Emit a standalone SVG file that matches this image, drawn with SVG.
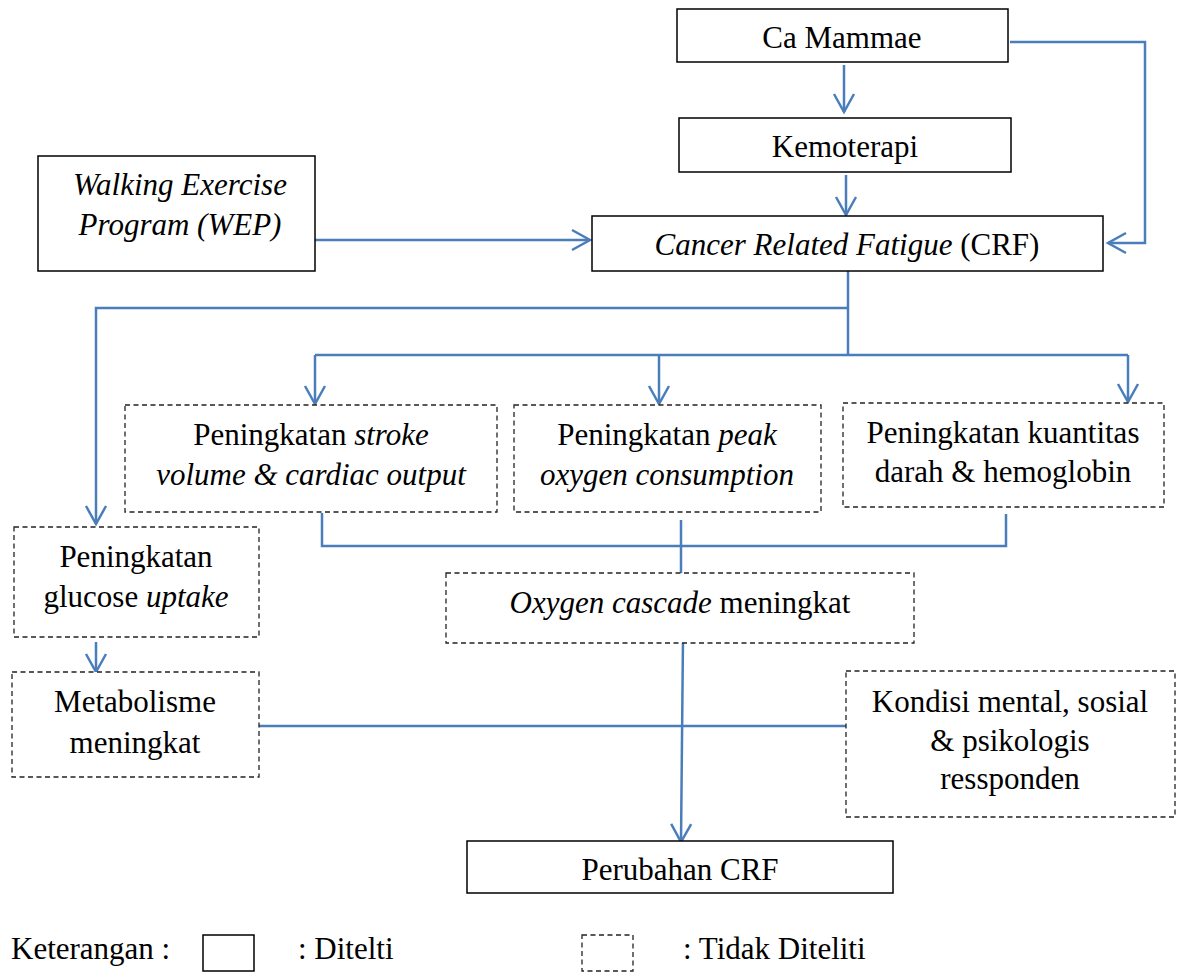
<svg xmlns="http://www.w3.org/2000/svg" width="1184" height="974" viewBox="0 0 1184 974">
<style>
text{font-family:'Liberation Serif','DejaVu Serif',serif;font-size:31px;fill:#000;text-anchor:middle}
.i{font-style:italic}
.solid{fill:#fff;stroke:#000;stroke-width:1.5}
.dash{fill:#fff;stroke:#222;stroke-width:1.3;stroke-dasharray:5,3.5}
.c{fill:none;stroke:#4a7ebb;stroke-width:2.5}
.a{marker-end:url(#arr)}
.lg{text-anchor:start}
</style>
<defs>
<marker id="arr" markerUnits="userSpaceOnUse" markerWidth="30" markerHeight="30" refX="0" refY="0" viewBox="-20 -15 25 30" orient="auto" overflow="visible">
<path d="M-18,-10 L0,0 L-18,10" fill="none" stroke="#4a7ebb" stroke-width="2.5"/>
</marker>
</defs>
<rect width="1184" height="974" fill="#fff"/>
<g id="connectors">
<path class="c a" d="M844,65 V112"/>
<path class="c a" d="M846,175 V215"/>
<path class="c a" d="M1010,42 H1145 V243 H1108"/>
<path class="c a" d="M315,240 H590"/>
<path class="c" d="M848,271 V356"/>
<path class="c a" d="M848,308 H96 V524"/>
<path class="c" d="M315,355 H1128"/>
<path class="c a" d="M315,355 V404"/>
<path class="c a" d="M659,355 V404"/>
<path class="c a" d="M1128,355 V402"/>
<path class="c" d="M322,513 V546 H1006 V514"/>
<path class="c" d="M681,520 V573"/>
<path class="c a" d="M683,638 L681,842"/>
<path class="c" d="M259,726 H846"/>
<path class="c a" d="M96,642 V672"/>
</g>
<g id="ca-mammae"><rect class="solid" x="677" y="9" width="331" height="53"/><text x="842" y="48">Ca Mammae</text></g>
<g id="kemoterapi"><rect class="solid" x="679" y="118" width="332" height="54"/><text x="845" y="157">Kemoterapi</text></g>
<g id="crf"><rect class="solid" x="592" y="216" width="511" height="55"/><text x="847" y="255"><tspan class="i">Cancer Related Fatigue</tspan> (CRF)</text></g>
<g id="wep"><rect class="solid" x="38" y="156" width="277" height="115"/><text class="i" x="180" y="195">Walking Exercise</text><text class="i" x="180" y="235">Program (WEP)</text></g>
<g id="stroke-volume"><rect class="dash" x="125" y="405" width="372" height="107"/><text x="311" y="445">Peningkatan <tspan class="i">stroke</tspan></text><text class="i" x="311" y="485">volume &amp; cardiac output</text></g>
<g id="peak-oxygen"><rect class="dash" x="514" y="405" width="307" height="107"/><text x="667" y="445">Peningkatan <tspan class="i">peak</tspan></text><text class="i" x="667" y="485">oxygen consumption</text></g>
<g id="kuantitas-darah"><rect class="dash" x="843" y="403" width="321" height="104"/><text x="1003" y="443">Peningkatan kuantitas</text><text x="1003" y="482">darah &amp; hemoglobin</text></g>
<g id="glucose-uptake"><rect class="dash" x="14" y="527" width="245" height="110"/><text x="136" y="567">Peningkatan</text><text x="136" y="607">glucose <tspan class="i">uptake</tspan></text></g>
<g id="oxygen-cascade"><rect class="dash" x="446" y="573" width="468" height="70"/><text x="680" y="613"><tspan class="i">Oxygen cascade</tspan> meningkat</text></g>
<g id="metabolisme"><rect class="dash" x="12" y="672" width="247" height="105"/><text x="135" y="712">Metabolisme</text><text x="135" y="753">meningkat</text></g>
<g id="kondisi"><rect class="dash" x="846" y="671" width="329" height="146"/><text x="1010" y="712">Kondisi mental, sosial</text><text x="1010" y="751">&amp; psikologis</text><text x="1010" y="789">ressponden</text></g>
<g id="perubahan-crf"><rect class="solid" x="467" y="841" width="426" height="52"/><text x="680" y="880">Perubahan CRF</text></g>
<g id="legend">
<text class="lg" x="11" y="959">Keterangan :</text>
<rect class="solid" x="203" y="935" width="51" height="36"/>
<text class="lg" x="298" y="959">: Ditelti</text>
<rect class="dash" x="582" y="935" width="51" height="36"/>
<text class="lg" x="683" y="959">: Tidak Diteliti</text>
</g>
</svg>
